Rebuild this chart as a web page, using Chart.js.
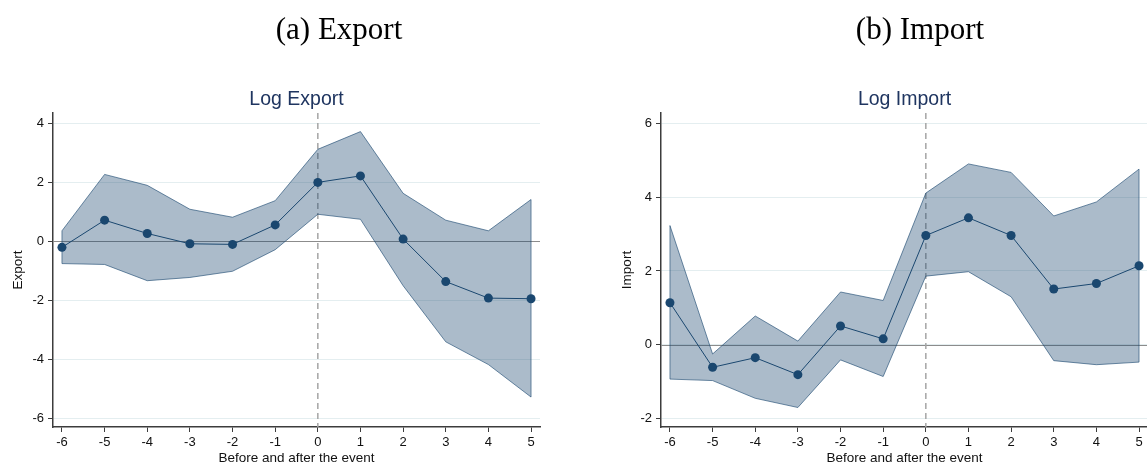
<!DOCTYPE html>
<html>
<head>
<meta charset="utf-8">
<title>Event study: Log Export and Log Import</title>
<script src="https://cdn.jsdelivr.net/npm/chart.js@4.4.1/dist/chart.umd.min.js"></script>
<style>
  html, body { margin: 0; padding: 0; background: #fff; overflow: hidden; width: 1147px; height: 463px; }
  canvas { position: absolute; top: 0; }
  .panel-title {
    position: absolute; top: 13px; width: 240px; text-align: center; z-index: 2;
    font-family: "Liberation Serif", "Times New Roman", serif; font-size: 31px; line-height: 31px;
    color: #000; white-space: nowrap;
  }
</style>
</head>
<body>
<div class="panel-title" style="left:219px">(a) Export</div>
<div class="panel-title" style="left:800px">(b) Import</div>
<canvas id="cExport" width="593" height="470" style="left:0"></canvas>
<canvas id="cImport" width="609" height="470" style="left:600px"></canvas>
<script>
// Event time (periods before and after the event)
const periods = [-6, -5, -4, -3, -2, -1, 0, 1, 2, 3, 4, 5];

// Log Export: point estimates and 95% confidence bounds
const exportCoef  = [-0.20, 0.72, 0.27, -0.08, -0.10, 0.56, 2.00, 2.22, 0.08, -1.36, -1.92, -1.94];
const exportUpper = [0.36, 2.27, 1.90, 1.09, 0.82, 1.38, 3.12, 3.72, 1.63, 0.72, 0.36, 1.42];
const exportLower = [-0.75, -0.78, -1.33, -1.22, -1.01, -0.28, 0.92, 0.75, -1.50, -3.40, -4.17, -5.27];

// Log Import: point estimates and 95% confidence bounds
const importCoef  = [1.14, -0.61, -0.35, -0.81, 0.51, 0.16, 2.96, 3.44, 2.96, 1.51, 1.66, 2.14];
const importUpper = [3.23, -0.25, 0.78, 0.10, 1.43, 1.20, 4.11, 4.90, 4.67, 3.49, 3.87, 4.76];
const importLower = [-0.93, -0.97, -1.45, -1.70, -0.41, -0.86, 1.86, 1.98, 1.30, -0.43, -0.54, -0.47];

// Axis tick values
const exportYTicks = [-6, -4, -2, 0, 2, 4];
const importYTicks = [-2, 0, 2, 4, 6];

const navy = '#1a476f';
const bandFill = 'rgba(26,71,111,0.37)';
const bandEdge = 'rgba(26,71,111,0.62)';
const axisColor = '#3c3c3c';
const gridColor = '#e4eef0';
const sans = '"Liberation Sans", Arial, Helvetica, sans-serif';

const toPoints = (ys) => periods.map((p, i) => ({ x: p, y: ys[i] }));

// Reference lines: horizontal at zero, dashed vertical at the event
const refLines = {
  id: 'refLines',
  beforeDatasetsDraw(chart) {
    const { ctx, chartArea: a, scales: { x, y } } = chart;
    ctx.save();
    ctx.beginPath();
    ctx.rect(a.left, a.top, a.right - a.left, a.bottom - a.top);
    ctx.clip();
    const y0 = Math.round(y.getPixelForValue(0)) + 0.5;
    ctx.strokeStyle = '#8c8c8c';
    ctx.lineWidth = 1;
    ctx.beginPath(); ctx.moveTo(a.left, y0); ctx.lineTo(a.right, y0); ctx.stroke();
    const x0 = x.getPixelForValue(0);
    ctx.strokeStyle = '#a5a5a5';
    ctx.lineWidth = 1.5;
    ctx.setLineDash([6, 4]);
    ctx.beginPath(); ctx.moveTo(x0, a.top); ctx.lineTo(x0, a.bottom); ctx.stroke();
    ctx.restore();
  }
};

// Close the confidence band outline at its first and last period
const bandEnds = {
  id: 'bandEnds',
  afterDatasetDraw(chart, args) {
    if (args.index !== 2) return;
    const up = chart.getDatasetMeta(1).data;
    const lo = chart.getDatasetMeta(2).data;
    const { ctx } = chart;
    ctx.save();
    ctx.strokeStyle = bandEdge;
    ctx.lineWidth = 1;
    for (const i of [0, up.length - 1]) {
      ctx.beginPath();
      ctx.moveTo(up[i].x, up[i].y);
      ctx.lineTo(lo[i].x, lo[i].y);
      ctx.stroke();
    }
    ctx.restore();
  }
};

function eventChart(canvasId, cfg) {
  return new Chart(document.getElementById(canvasId), {
    type: 'line',
    data: {
      datasets: [
        {
          data: toPoints(cfg.coef), order: 0,
          borderColor: navy, borderWidth: 1, tension: 0,
          pointRadius: 4.5, pointBackgroundColor: navy, pointBorderWidth: 0,
          fill: false
        },
        {
          data: toPoints(cfg.upper), order: 2,
          borderColor: bandEdge, borderWidth: 1, tension: 0, pointRadius: 0,
          backgroundColor: bandFill, fill: '+1'
        },
        {
          data: toPoints(cfg.lower), order: 1,
          borderColor: bandEdge, borderWidth: 1, tension: 0, pointRadius: 0,
          fill: false
        }
      ]
    },
    options: {
      responsive: false,
      animation: false,
      devicePixelRatio: 1,
      events: [],
      layout: { padding: { top: 88, left: 0, right: cfg.padRight, bottom: 0 } },
      plugins: {
        legend: { display: false },
        tooltip: { enabled: false },
        title: {
          display: true, text: cfg.title, fullSize: false,
          color: '#1f3560', font: { family: sans, size: 19.5, weight: 'normal' },
          padding: { top: 0, bottom: 1.6 }
        }
      },
      scales: {
        x: {
          type: 'linear', min: -6.21, max: 5.21,
          afterBuildTicks: (s) => { s.ticks = periods.map((v) => ({ value: v })); },
          afterFit: (s) => { s.height = 43; },
          grid: { drawOnChartArea: false, tickLength: 5, tickColor: axisColor, tickWidth: 1 },
          border: { color: axisColor, width: 1.5 },
          ticks: { color: '#111', font: { family: sans, size: 13 }, padding: 3, autoSkip: false, maxRotation: 0 },
          title: {
            display: true, text: 'Before and after the event', color: '#111',
            font: { family: sans, size: 13.5 }, padding: { top: 0, bottom: 4 }
          }
        },
        y: {
          type: 'linear', min: cfg.yMin, max: cfg.yMax,
          afterBuildTicks: (s) => { s.ticks = cfg.yTicks.map((v) => ({ value: v })); },
          afterFit: (s) => { s.width = cfg.yWidth; },
          grid: { color: gridColor, lineWidth: 1, tickLength: 5, tickColor: axisColor, tickWidth: 1 },
          border: { color: axisColor, width: 1.5 },
          ticks: { color: '#111', font: { family: sans, size: 13 }, padding: 4 },
          title: {
            display: true, text: cfg.yTitle, color: '#111',
            font: { family: sans, size: 13.5 }, padding: { top: cfg.yTitlePad, bottom: 0 }
          }
        }
      }
    },
    plugins: [refLines, bandEnds]
  });
}

eventChart('cExport', {
  title: 'Log Export', yTitle: 'Export',
  coef: exportCoef, upper: exportUpper, lower: exportLower,
  yTicks: exportYTicks, yMin: -6.285, yMax: 4.35,
  yWidth: 53, yTitlePad: 10, padRight: 53
});

eventChart('cImport', {
  title: 'Log Import', yTitle: 'Import',
  coef: importCoef, upper: importUpper, lower: importLower,
  yTicks: importYTicks, yMin: -2.228, yMax: 6.28,
  yWidth: 61, yTitlePad: 19, padRight: 61
});
</script>
</body>
</html>
